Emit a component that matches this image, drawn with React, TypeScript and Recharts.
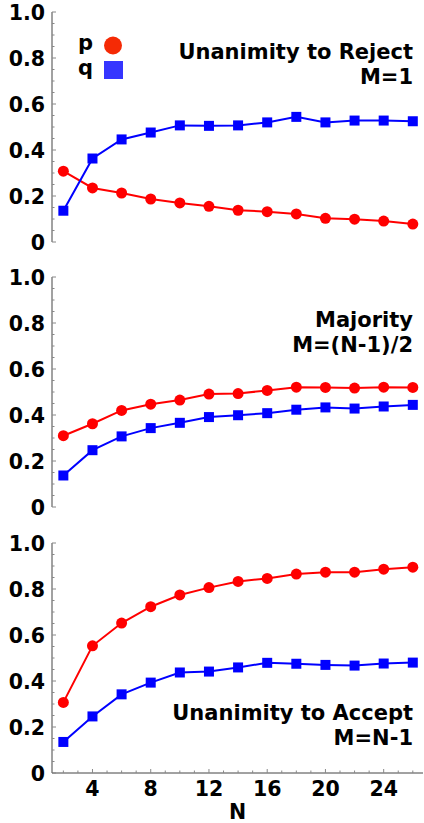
import React from "react";
import { LineChart, Line, XAxis, YAxis, Label } from "recharts";

// group size N and the fitted probabilities
const N = [2, 4, 6, 8, 10, 12, 14, 16, 18, 20, 22, 24, 26];
const rejectP = [0.308, 0.235, 0.213, 0.187, 0.17, 0.155, 0.138, 0.132, 0.122, 0.103, 0.099, 0.091, 0.078];
const rejectQ = [0.136, 0.363, 0.446, 0.476, 0.507, 0.505, 0.507, 0.52, 0.544, 0.52, 0.528, 0.528, 0.525];
const majorityP = [0.31, 0.362, 0.42, 0.447, 0.465, 0.491, 0.493, 0.507, 0.521, 0.52, 0.517, 0.521, 0.52];
const majorityQ = [0.137, 0.247, 0.307, 0.343, 0.366, 0.391, 0.399, 0.408, 0.423, 0.433, 0.428, 0.437, 0.444];
const acceptP = [0.307, 0.553, 0.652, 0.723, 0.774, 0.806, 0.833, 0.846, 0.865, 0.873, 0.873, 0.886, 0.895];
const acceptQ = [0.135, 0.246, 0.342, 0.393, 0.437, 0.441, 0.459, 0.479, 0.475, 0.47, 0.467, 0.476, 0.48];

const xTicks = [2, 3, 4, 5, 6, 7, 8, 9, 10, 11, 12, 13, 14, 15, 16, 17, 18, 19, 20, 21, 22, 23, 24, 25, 26];
const xLabels = [4, 8, 12, 16, 20, 24];
const yTicks = [0, 0.05, 0.1, 0.15, 0.2, 0.25, 0.3, 0.35, 0.4, 0.45, 0.5, 0.55, 0.6, 0.65, 0.7, 0.75, 0.8, 0.85, 0.9, 0.95, 1];
const yLabels = [0, 0.2, 0.4, 0.6, 0.8, 1];

const FONT = "'DejaVu Sans', Verdana, sans-serif";
const RED = "#ff0000";
const BLUE = "#0000ff";
const TICK = "#888";
const TICK_FS = 20.5;
const NOTE_FS = 21;

const isMajorY = (v: number) => yLabels.some((l) => Math.abs(l - v) < 1e-6);
const fmtY = (v: number) => (v === 0 ? "0" : v.toFixed(1));

const BottomTick = (showLabels: boolean) => (props: any) => {
  const { x, y, payload } = props;
  const v = payload.value;
  const major = xLabels.includes(v);
  return (
    <g>
      <line x1={x} x2={x} y1={y} y2={y - (major ? 4 : 2.5)} stroke={TICK} />
      {showLabels && major && (
        <text x={x} y={y + 23} textAnchor="middle" fontFamily={FONT} fontWeight="bold" fontSize={TICK_FS} fill="#000">
          {v}
        </text>
      )}
    </g>
  );
};

const TopTick = (props: any) => {
  const { x, y, payload } = props;
  const major = xLabels.includes(payload.value);
  return <line x1={x} x2={x} y1={y} y2={y + (major ? 4 : 2.5)} stroke={TICK} />;
};

const LeftTick = (props: any) => {
  const { x, y, payload } = props;
  const v = payload.value;
  const major = isMajorY(v);
  return (
    <g>
      <line x1={x} x2={x + (major ? 4 : 2.5)} y1={y} y2={y} stroke={TICK} />
      {major && (
        <text x={x - 7} y={y + 7.5} textAnchor="end" fontFamily={FONT} fontWeight="bold" fontSize={TICK_FS} fill="#000">
          {fmtY(v)}
        </text>
      )}
    </g>
  );
};

const RightTick = (props: any) => {
  const { x, y, payload } = props;
  const major = isMajorY(payload.value);
  return <line x1={x} x2={x - (major ? 4 : 2.5)} y1={y} y2={y} stroke={TICK} />;
};

const SquareDot = (props: any) => {
  const { cx, cy } = props;
  if (cx == null || cy == null) return null;
  return <rect x={cx - 5} y={cy - 5} width={10} height={10} fill={BLUE} />;
};

type PanelProps = {
  p: number[];
  q: number[];
  height: number;
  top: number;
  notes: string[];
  noteY: number;
  bottomLabels?: boolean;
  legend?: boolean;
};

function Panel({ p, q, height, top, notes, noteY, bottomLabels = false, legend = false }: PanelProps) {
  const data = N.map((n, i) => ({ n, p: p[i], q: q[i] }));
  const xHeight = bottomLabels ? 50 : 0;
  return (
    <LineChart
      width={424}
      height={height}
      data={data}
      margin={{ top, right: 1, left: 0, bottom: bottomLabels ? 0 : height - top - 230 }}
    >
      <XAxis
        dataKey="n"
        type="number"
        domain={[1.22, 26.7]}
        ticks={xTicks}
        interval={0}
        height={xHeight}
        tickSize={0}
        tickMargin={0}
        tickLine={false}
        stroke="#444"
        tick={BottomTick(bottomLabels)}
        allowDataOverflow
      >
        {bottomLabels && (
          <Label
            value="N"
            position="insideBottom"
            offset={4}
            style={{ fontFamily: FONT, fontWeight: "bold", fontSize: TICK_FS, fill: "#000" }}
          />
        )}
      </XAxis>
      <XAxis
        xAxisId="top"
        orientation="top"
        dataKey="n"
        type="number"
        domain={[1.22, 26.7]}
        ticks={xTicks}
        interval={0}
        height={0}
        tickSize={0}
        tickMargin={0}
        tickLine={false}
        stroke="#bbb"
        tick={TopTick}
        allowDataOverflow
      />
      <YAxis
        type="number"
        domain={[0, 1]}
        ticks={yTicks}
        interval={0}
        width={52}
        tickSize={0}
        tickMargin={0}
        tickLine={false}
        stroke="#444"
        tick={LeftTick}
      />
      <YAxis
        yAxisId="right"
        orientation="right"
        type="number"
        domain={[0, 1]}
        ticks={yTicks}
        interval={0}
        width={0}
        tickSize={0}
        tickMargin={0}
        tickLine={false}
        stroke="#bbb"
        tick={RightTick}
      />
      <Line
        dataKey="p"
        stroke={RED}
        strokeWidth={2}
        dot={{ r: 5.5, fill: RED, stroke: RED, strokeWidth: 0 }}
        isAnimationActive={false}
      />
      <Line dataKey="q" stroke={BLUE} strokeWidth={2} dot={<SquareDot />} isAnimationActive={false} />
      {notes.map((t, i) => (
        <text
          key={t}
          x={413}
          y={noteY + i * 25}
          textAnchor="end"
          fontFamily={FONT}
          fontWeight="bold"
          fontSize={NOTE_FS}
          fill="#000"
        >
          {t}
        </text>
      ))}
      {legend && (
        <g>
          <text x={78} y={50} fontFamily={FONT} fontWeight="bold" fontSize={NOTE_FS} fill="#000">
            p
          </text>
          <circle cx={113} cy={45.5} r={9} fill="#f52a05" />
          <text x={78} y={75} fontFamily={FONT} fontWeight="bold" fontSize={NOTE_FS} fill="#000">
            q
          </text>
          <rect x={104} y={61} width={19} height={18} fill="#3535ff" />
        </g>
      )}
    </LineChart>
  );
}

export default function App() {
  return (
    <div style={{ position: "absolute", left: 0, top: 0, width: 424, height: 823, background: "#fff" }}>
      <Panel p={rejectP} q={rejectQ} height={265} top={12} notes={["Unanimity to Reject", "M=1"]} noteY={58.5} legend />
      <Panel p={majorityP} q={majorityQ} height={265} top={12} notes={["Majority", "M=(N-1)/2"]} noteY={61.5} />
      <Panel
        p={acceptP}
        q={acceptQ}
        height={293}
        top={13}
        notes={["Unanimity to Accept", "M=N-1"]}
        noteY={190}
        bottomLabels
      />
    </div>
  );
}
